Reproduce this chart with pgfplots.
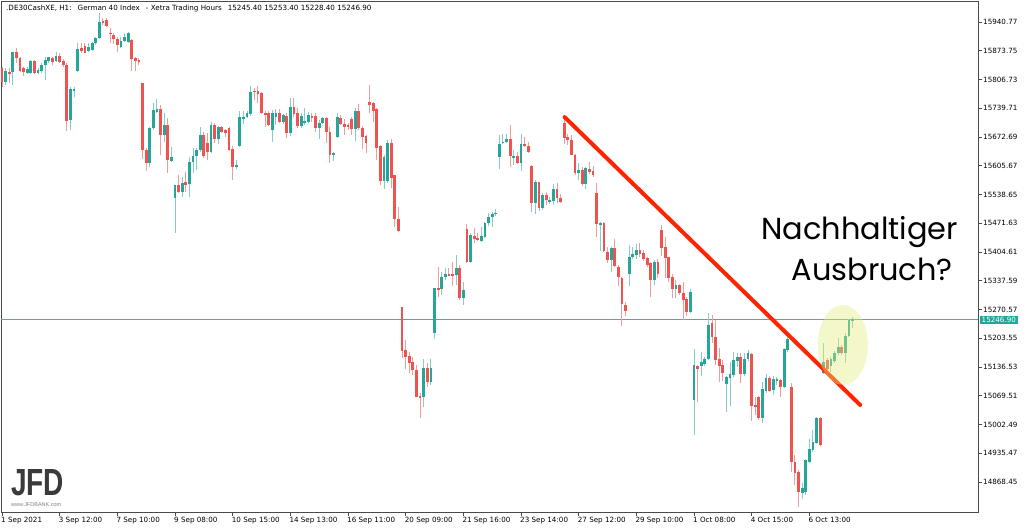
\documentclass[border=0pt]{standalone}
\usepackage{fontspec}
\setmainfont{DejaVu Sans}
\newfontfamily\annfont{Poppins}
\newfontfamily\logofont{Liberation Sans}
\usepackage{pgfplots}
\usepackage{pgfplotstable}
\pgfplotsset{compat=1.18}
\definecolor{bull}{HTML}{26A69A}
\definecolor{bear}{HTML}{EF5350}
\definecolor{bullw}{HTML}{86CDC5}
\definecolor{bearw}{HTML}{F49C9A}
\definecolor{trend}{HTML}{FF2400}
\definecolor{hl}{HTML}{E2EC78}
\definecolor{pline}{HTML}{5FA39C}
\definecolor{framec}{HTML}{4A4A4A}
\definecolor{logogray}{HTML}{3A3A3A}
\newcommand\lbl{\fontsize{7.2}{8.5}\selectfont}
\pgfplotsset{candle/.style={only marks, mark=*, mark size=0pt, mark options={draw=none, fill=none}, forget plot}}

\pgfplotstableread{
i o h l c
0 15834 15836 15789 15801
1 15801 15834 15794 15827
2 15824 15834 15799 15820
3 15824 15871 15794 15871
4 15871 15880 15845 15857
5 15857 15859 15824 15827
6 15834 15836 15815 15824
7 15822 15836 15820 15831
8 15822 15852 15820 15850
9 15850 15852 15820 15822
10 15822 15834 15820 15829
11 15827 15845 15822 15841
12 15841 15859 15806 15852
13 15850 15859 15845 15859
14 15857 15859 15841 15848
15 15850 15871 15848 15862
16 15862 15868 15845 15848
17 15850 15855 15836 15841
18 15841 15845 15687 15710
19 15712 15789 15689 15785
20 15780 15789 15766 15785
21 15827 15892 15824 15878
22 15880 15892 15868 15873
23 15885 15892 15868 15868
24 15873 15892 15871 15882
25 15875 15894 15873 15892
26 15892 15906 15887 15903
27 15903 15962 15901 15941
28 15943 15950 15934 15938
29 15945 15950 15929 15931
30 15915 15927 15892 15913
31 15910 15915 15889 15901
32 15901 15906 15871 15887
33 15882 15906 15880 15896
34 15896 15915 15894 15906
35 15894 15917 15892 15915
36 15899 15901 15827 15855
37 15857 15859 15827 15850
38 15852 15857 15841 15848
39 15799 15799 15621 15642
40 15642 15647 15593 15612
41 15612 15696 15603 15694
42 15694 15752 15689 15736
43 15731 15761 15729 15738
44 15738 15747 15631 15677
45 15677 15729 15661 15701
46 15701 15717 15589 15619
47 15617 15649 15614 15626
48 15530 15561 15449 15561
49 15561 15584 15542 15544
50 15544 15579 15533 15565
51 15568 15591 15544 15561
52 15563 15626 15533 15614
53 15614 15647 15589 15628
54 15628 15647 15596 15642
55 15642 15696 15638 15677
56 15677 15684 15624 15628
57 15659 15682 15619 15638
58 15638 15708 15635 15701
59 15701 15705 15659 15668
60 15668 15698 15656 15696
61 15696 15698 15682 15684
62 15689 15691 15673 15682
63 15694 15696 15640 15642
64 15645 15652 15572 15603
65 15605 15619 15598 15607
66 15652 15733 15649 15719
67 15717 15733 15703 15719
68 15719 15733 15717 15729
69 15726 15792 15722 15778
70 15780 15787 15759 15778
71 15780 15792 15752 15773
72 15775 15778 15726 15729
73 15729 15733 15696 15724
74 15729 15733 15698 15701
75 15689 15736 15661 15729
76 15719 15738 15701 15729
77 15729 15738 15705 15708
78 15708 15726 15703 15724
79 15722 15729 15670 15682
80 15682 15764 15675 15743
81 15743 15764 15719 15726
82 15729 15740 15694 15698
83 15698 15729 15694 15722
84 15705 15740 15701 15710
85 15708 15731 15705 15724
86 15722 15729 15708 15719
87 15722 15729 15684 15694
88 15694 15712 15668 15705
89 15705 15719 15703 15717
90 15717 15719 15659 15684
91 15684 15696 15612 15631
92 15631 15638 15617 15635
93 15673 15729 15670 15719
94 15717 15724 15701 15703
95 15703 15715 15677 15696
96 15701 15705 15689 15696
97 15715 15719 15677 15691
98 15691 15740 15663 15733
99 15733 15750 15689 15694
100 15694 15698 15645 15673
101 15675 15677 15635 15659
102 15754 15794 15729 15747
103 15752 15754 15708 15733
104 15738 15740 15619 15647
105 15652 15654 15561 15570
106 15570 15631 15551 15626
107 15570 15666 15565 15659
108 15659 15668 15554 15577
109 15584 15584 15463 15482
110 15482 15509 15451 15454
111 15276 15276 15157 15174
112 15176 15199 15132 15160
113 15162 15171 15123 15146
114 15148 15160 15118 15130
115 15130 15141 15067 15067.5
116 15069 15076 15018 15064
117 15067 15155 15043 15134
118 15134 15146 15090 15102
119 15102 15155 15095 15134
120 15216 15321 15202 15321
121 15321 15370 15300 15318
122 15318 15358 15304 15346
123 15346 15367 15339 15353
124 15353 15367 15349 15351
125 15353 15381 15325 15351
126 15351 15398 15328 15367
127 15367 15374 15293 15297
128 15297 15335 15281 15316
129 15458 15470 15379 15381
130 15381 15449 15379 15444
131 15442 15461 15426 15435
132 15437 15449 15430 15433
133 15430 15463 15428 15442
134 15440 15475 15437 15472
135 15472 15496 15465 15486
136 15486 15498 15463 15493
137 15493 15505 15489 15496
138 15626 15677 15598 15656
139 15659 15680 15656 15661
140 15661 15680 15659 15668
141 15668 15701 15603 15628
142 15626 15642 15607 15628
143 15628 15638 15610 15612
144 15612 15680 15593 15656
145 15656 15673 15649 15652
146 15652 15661 15635 15638
147 15605 15607 15498 15519
148 15519 15572 15493 15568
149 15568 15568 15500 15507
150 15507 15542 15502 15537
151 15537 15544 15514 15526
152 15523 15533 15516 15526
153 15523 15563 15514 15551
154 15551 15565 15519 15530
155 15530 15540 15519 15521
156 15705 15717 15656 15670
157 15673 15680 15654 15666
158 15666 15677 15631 15631.5
159 15631 15633 15584 15589
160 15589 15612 15572 15596
161 15596 15603 15558 15563
162 15563 15603 15551 15600
163 15598 15614 15586 15591
164 15593 15605 15579 15584
165 15542 15565 15440 15470
166 15470 15475 15407 15472
167 15472 15475 15405 15407
168 15405 15416 15379 15386
169 15386 15416 15358 15414
170 15414 15435 15370 15372
171 15370 15374 15325 15346
172 15344 15346 15232 15283
173 15281 15288 15255 15267
174 15353 15421 15325 15393
175 15393 15416 15388 15400
176 15398 15423 15388 15409
177 15409 15426 15393 15400
178 15402 15409 15384 15388
179 15391 15393 15370 15374
180 15379 15381 15300 15339
181 15339 15386 15328 15381
182 15381 15388 15344 15353
183 15456 15468 15395 15414
184 15416 15440 15344 15391
185 15393 15393 15335 15344
186 15346 15353 15297 15318
187 15318 15339 15297 15328
188 15328 15330 15304 15309
189 15309 15335 15246 15293
190 15295 15300 15255 15265
191 15265 15318 15262 15311
192 15060 15178 14978 15141
193 15139 15141 15055 15132
194 15139 15171 15116 15148
195 15143 15160 15139 15155
196 15155 15262 15153 15234
197 15239 15258 15192 15206
198 15206 15246 15141 15153
199 15155 15181 15102 15139
200 15141 15153 15104 15123
201 15097 15116 15032 15113
202 15111 15148 15046 15120
203 15118 15171 15113 15153
204 15150 15169 15137 15160
205 15160 15169 15099 15120
206 15120 15169 15116 15155
207 15155 15176 15150 15169
208 15167 15169 15011 15046
209 15048 15067 15025 15043
210 15067 15069 15013 15018
211 15018 15102 15006 15085
212 15081 15120 15076 15111
213 15111 15116 15078 15081
214 15083 15116 15071 15109
215 15104 15113 15095 15109
216 15106 15109 15067 15090
217 15090 15181 15088 15178
218 15176 15206 15171 15202
219 15090 15099 14892 14915
220 14915 14931 14861 14889
221 14892 14896 14810 14845
222 14843 14866 14829 14854
223 14845 14922 14838 14920
224 14915 14969 14913 14945
225 14943 14990 14938 14962
226 14959 15020 14957 15018
227 15018 15020 14952 14955
228 15123 15192 15120 15148
229 15153 15157 15120 15132
230 15139 15160 15125 15155
231 15150 15174 15146 15169
232 15169 15204 15164 15183
233 15183 15188 15164 15169
234 15169 15216 15146 15209
235 15209 15248 15206 15246
236 15245.4 15253.4 15228.4 15246.9
}\candles

\begin{document}
\begin{tikzpicture}[x=1bp,y=1bp]
\fill[white] (0,0) rectangle (1030,530);
\begin{axis}[
  at={(1bp,18bp)}, anchor=south west,
  scale only axis, width=977bp, height=511bp,
  xmin=-0.28, xmax=270.8, ymin=14798.5, ymax=15989.7,
  clip mode=individual,
  scaled x ticks=false, scaled y ticks=false,
  axis line style={draw=framec, line width=0.8bp},
  tick align=outside, major tick length=4bp,
  tick style={draw=framec, line width=0.8bp},
  xtick pos=bottom, ytick pos=right,
  xtick={0,16,...,224},
  xticklabels={1 Sep 2021, 3 Sep 12:00, 7 Sep 10:00, 9 Sep 08:00, 10 Sep 15:00, 14 Sep 13:00, 16 Sep 11:00, 20 Sep 09:00, 21 Sep 16:00, 23 Sep 14:00, 27 Sep 12:00, 29 Sep 10:00, 1 Oct 08:00, 4 Oct 15:00, 6 Oct 13:00},
  ytick={14868.45,14935.47,15002.49,15069.51,15136.53,15203.55,15270.57,15337.59,15404.61,15471.63,15538.65,15605.67,15672.69,15739.71,15806.73,15873.75,15940.77},
  yticklabels={14868.45,14935.47,15002.49,15069.51,15136.53,15203.55,15270.57,15337.59,15404.61,15471.63,15538.65,15605.67,15672.69,15739.71,15806.73,15873.75,15940.77},
  xticklabel style={anchor=north west, inner sep=0pt, font=\lbl, xshift=-1bp, yshift=-1bp},
  yticklabel style={anchor=west, inner sep=0pt, font=\lbl, xshift=1bp},
]
% price line
\addplot[draw=pline, line width=0.8bp, forget plot] coordinates {(-0.28,15246.9) (270.8,15246.9)};
% bull wicks
\addplot[candle,
  restrict expr to domain={\thisrow{c}-\thisrow{o}}{0:100000},
  error bars/.cd, y dir=both, y explicit, error mark=none,
  error bar style={draw=bullw, line width=1bp}]
  table[x=i, y expr={(\thisrow{h}+\thisrow{l})/2}, y error expr={(\thisrow{h}-\thisrow{l})/2}] {\candles};
% bear wicks
\addplot[candle,
  restrict expr to domain={\thisrow{o}-\thisrow{c}}{0.01:100000},
  error bars/.cd, y dir=both, y explicit, error mark=none,
  error bar style={draw=bearw, line width=1bp}]
  table[x=i, y expr={(\thisrow{h}+\thisrow{l})/2}, y error expr={(\thisrow{h}-\thisrow{l})/2}] {\candles};
% bull bodies
\addplot[candle,
  restrict expr to domain={\thisrow{c}-\thisrow{o}}{0:100000},
  error bars/.cd, y dir=both, y explicit, error mark=none,
  error bar style={draw=bull, line width=2.8bp}]
  table[x=i, y expr={(\thisrow{o}+\thisrow{c})/2}, y error expr={max(abs(\thisrow{c}-\thisrow{o})/2,1.2)}] {\candles};
% bear bodies
\addplot[candle,
  restrict expr to domain={\thisrow{o}-\thisrow{c}}{0.01:100000},
  error bars/.cd, y dir=both, y explicit, error mark=none,
  error bar style={draw=bear, line width=2.8bp}]
  table[x=i, y expr={(\thisrow{o}+\thisrow{c})/2}, y error expr={max(abs(\thisrow{c}-\thisrow{o})/2,1.2)}] {\candles};
% trend line
\addplot[draw=trend, line width=4bp, line cap=round, forget plot] coordinates {(156.1,15719) (238.1,15048)};
% highlight
\fill[hl, opacity=0.4] (axis cs:233.3,15188) ellipse [x radius=25bp, y radius=40bp];
% current price box
\node[anchor=west, fill=bull, text=white, font=\lbl, inner xsep=2bp, inner ysep=1.4bp, xshift=1.5bp] at (axis cs:270.8,15246.9) {15246.90};
\end{axis}
\node[anchor=west, inner sep=0pt, font=\lbl] at (6,521) {.DE30CashXE, H1:\hspace{6bp}German 40 Index\hspace{6bp}- Xetra Trading Hours\hspace{6bp}15245.40 15253.40 15228.40 15246.90};
\node[anchor=base east, inner sep=0pt, font=\annfont\fontsize{30.5}{36}\selectfont] at (958,290) {Nachhaltiger};
\node[anchor=base east, inner sep=0pt, font=\annfont\fontsize{30.5}{36}\selectfont] at (953,249) {Ausbruch?};
\node[anchor=south west, inner sep=0pt, text=logogray] at (11,34) {\resizebox{53bp}{26bp}{\logofont\bfseries JFD}};
\node[anchor=south west, inner sep=0pt, text=gray] at (11,23) {\resizebox{50bp}{!}{\logofont\fontsize{4}{5}\selectfont www.JFDBANK.com}};
\pgfresetboundingbox
\path[use as bounding box] (0,0) rectangle (1030,530);
\end{tikzpicture}
\end{document}
